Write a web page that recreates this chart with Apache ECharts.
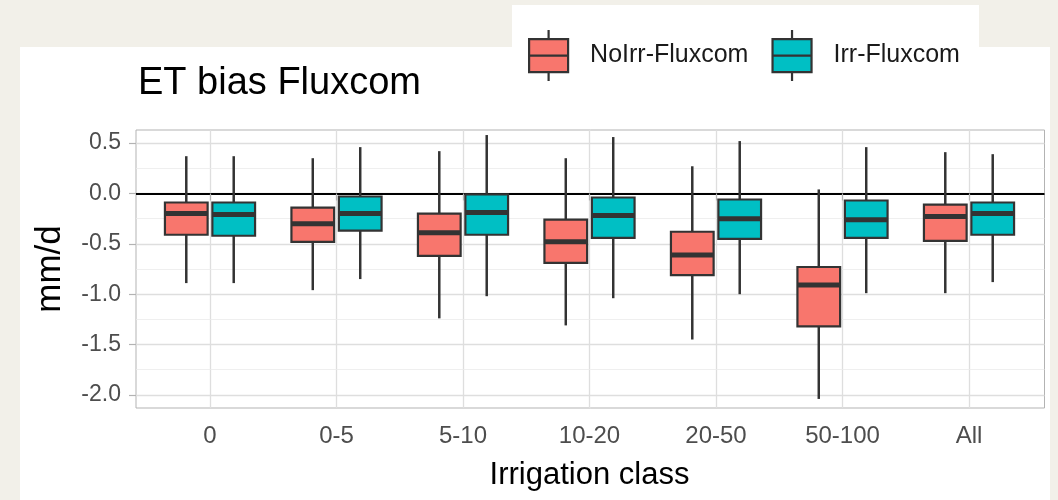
<!DOCTYPE html>
<html>
<head>
<meta charset="utf-8">
<script src="https://cdn.jsdelivr.net/npm/echarts@6/dist/echarts.min.js"></script>
<style>
html,body{margin:0;padding:0;background:#f2f0e9;}
#chart{width:1058px;height:500px;}
</style>
</head>
<body>
<div id="chart"></div>
<script>
// ---- data ----
const categories = ['0', '0-5', '5-10', '10-20', '20-50', '50-100', 'All'];
// [min, q1, median, q3, max] per category
const noIrrFluxcom = [
  [-0.89, -0.41, -0.20, -0.09, 0.37],
  [-0.96, -0.48, -0.30, -0.14, 0.35],
  [-1.24, -0.62, -0.39, -0.20, 0.42],
  [-1.31, -0.69, -0.48, -0.26, 0.35],
  [-1.45, -0.81, -0.61, -0.38, 0.27],
  [-2.04, -1.32, -0.91, -0.73, 0.04],
  [-0.99, -0.47, -0.23, -0.11, 0.41]
];
const irrFluxcom = [
  [-0.89, -0.42, -0.21, -0.09, 0.37],
  [-0.85, -0.37, -0.20, -0.03, 0.46],
  [-1.02, -0.41, -0.19, -0.01, 0.58],
  [-1.04, -0.44, -0.22, -0.04, 0.56],
  [-1.00, -0.45, -0.25, -0.06, 0.52],
  [-0.99, -0.44, -0.26, -0.07, 0.46],
  [-0.88, -0.41, -0.20, -0.09, 0.39]
];
const yTicks = [-2.0, -1.5, -1.0, -0.5, 0.0, 0.5];
const yMinorTicks = [-1.75, -1.25, -0.75, -0.25, 0.25];
const yMin = -2.13, yMax = 0.63;
const seriesNames = ['NoIrr-Fluxcom', 'Irr-Fluxcom'];
const refLine = 0;

// ---- chart ----
const FONT = "'Liberation Sans', Arial, sans-serif";
const COLORS = ['#F8766D', '#00BFC4'];
const EDGE = '#333333';
const chart = echarts.init(document.getElementById('chart'), null, {renderer: 'canvas'});

function withIndex(arr) { return arr.map((d, i) => [i].concat(d)); }

function makeRender(offsetFrac, color) {
  return function (params, api) {
    const xi = api.value(0);
    const step = api.size([1, 0])[0];
    const w = step * 0.375 * 0.9;
    const c = api.coord([xi, api.value(3)]);
    const cx = c[0] + offsetFrac * step;
    const yLo = api.coord([xi, api.value(1)])[1];
    const yQ1 = api.coord([xi, api.value(2)])[1];
    const yMed = c[1];
    const yQ3 = api.coord([xi, api.value(4)])[1];
    const yHi = api.coord([xi, api.value(5)])[1];
    return {
      type: 'group',
      children: [
        {type: 'line', shape: {x1: cx, y1: yHi, x2: cx, y2: yQ3}, style: {stroke: EDGE, lineWidth: 2.5}},
        {type: 'line', shape: {x1: cx, y1: yQ1, x2: cx, y2: yLo}, style: {stroke: EDGE, lineWidth: 2.5}},
        {type: 'rect', shape: {x: cx - w / 2, y: yQ3, width: w, height: yQ1 - yQ3},
          style: {fill: color, stroke: EDGE, lineWidth: 2.2}},
        {type: 'line', shape: {x1: cx - w / 2, y1: yMed, x2: cx + w / 2, y2: yMed},
          style: {stroke: EDGE, lineWidth: 5}}
      ]
    };
  };
}

const legendIcon = 'path://M0,9 L39,9 L39,42 L0,42 Z M0,25.5 L39,25.5 M19.5,0 L19.5,9 M19.5,42 L19.5,51';

const gridLineData = yMinorTicks.map(v => ({yAxis: v, lineStyle: {color: '#ebebeb', width: 0.8, type: 'solid'}}))
  .concat(yTicks.map(v => ({yAxis: v, lineStyle: {color: '#dedede', width: 1.3, type: 'solid'}})));

const option = {
  backgroundColor: '#f2f0e9',
  animation: false,
  textStyle: {fontFamily: FONT},
  graphic: [
    {type: 'rect', z: -10, shape: {x: 20, y: 47, width: 1030, height: 460}, style: {fill: '#ffffff'}},
    {type: 'rect', z: -10, shape: {x: 512, y: 5, width: 467, height: 45}, style: {fill: '#ffffff'}}
  ],
  title: {
    text: 'ET bias Fluxcom',
    left: 133, top: 60,
    textStyle: {fontFamily: FONT, fontSize: 38, fontWeight: 'normal', color: '#000'}
  },
  legend: {
    data: seriesNames,
    left: 523, top: 24,
    itemWidth: 39, itemHeight: 51,
    itemGap: 23,
    icon: legendIcon,
    symbolKeepAspect: true,
    itemStyle: {borderColor: EDGE, borderWidth: 2.2},
    textStyle: {fontFamily: FONT, fontSize: 25, color: '#1a1a1a', padding: [0, 0, 0, 17]}
  },
  grid: [
    {left: 136, right: 13.5, top: 130, bottom: 92, show: true, borderColor: '#b3b3b3', borderWidth: 1, backgroundColor: '#fff', containLabel: false},
    {left: 210, width: 759, top: 130, height: 278, containLabel: false}
  ],
  xAxis: [
    {type: 'value', gridIndex: 0, min: 0, max: 1, show: false},
    {
      type: 'category', gridIndex: 1, data: categories, boundaryGap: false,
      axisLine: {show: false},
      axisTick: {show: true, length: 7, lineStyle: {color: '#b3b3b3', width: 1.2}},
      axisLabel: {fontFamily: FONT, fontSize: 24, color: '#4d4d4d', margin: 16},
      splitLine: {show: true, lineStyle: {color: '#dedede', width: 1.3}},
      name: 'Irrigation class', nameLocation: 'middle', nameGap: 52,
      nameTextStyle: {fontFamily: FONT, fontSize: 31, color: '#000'}
    }
  ],
  yAxis: [
    {
      type: 'value', gridIndex: 0, min: yMin, max: yMax,
      axisLine: {show: false},
      axisTick: {show: true, length: 7, customValues: yTicks, lineStyle: {color: '#b3b3b3', width: 1.2}},
      axisLabel: {customValues: yTicks, fontFamily: FONT, fontSize: 23, color: '#4d4d4d', margin: 15,
        formatter: v => v.toFixed(1)},
      splitLine: {show: false},
      name: 'mm/d', nameLocation: 'middle', nameRotate: 90, nameGap: 68,
      nameTextStyle: {fontFamily: FONT, fontSize: 35, color: '#000'}
    },
    {type: 'value', gridIndex: 1, min: yMin, max: yMax, show: false, splitLine: {show: false}}
  ],
  series: [
    {
      type: 'line', xAxisIndex: 0, yAxisIndex: 0, data: [], silent: true, z: 0,
      markLine: {
        silent: true, symbol: 'none', label: {show: false}, z: 0,
        data: gridLineData.concat([{yAxis: refLine, lineStyle: {color: '#000', width: 2.2, type: 'solid'}}])
      }
    },
    {
      name: seriesNames[0], type: 'custom', xAxisIndex: 1, yAxisIndex: 1, clip: false, z: 5,
      itemStyle: {color: COLORS[0], borderColor: EDGE},
      encode: {x: 0, y: [1, 2, 3, 4, 5]},
      renderItem: makeRender(-0.1875, COLORS[0]),
      data: withIndex(noIrrFluxcom)
    },
    {
      name: seriesNames[1], type: 'custom', xAxisIndex: 1, yAxisIndex: 1, clip: false, z: 5,
      itemStyle: {color: COLORS[1], borderColor: EDGE},
      encode: {x: 0, y: [1, 2, 3, 4, 5]},
      renderItem: makeRender(0.1875, COLORS[1]),
      data: withIndex(irrFluxcom)
    }
  ]
};
chart.setOption(option);
</script>
</body>
</html>
